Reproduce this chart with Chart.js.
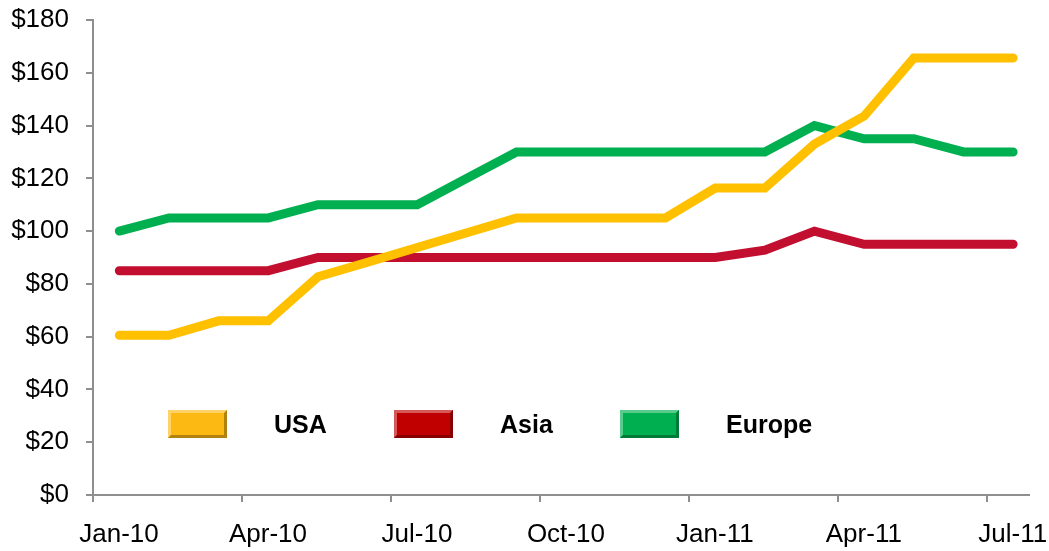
<!DOCTYPE html>
<html>
<head>
<meta charset="utf-8">
<script src="https://cdn.jsdelivr.net/npm/chart.js@4/dist/chart.umd.min.js"></script>
<style>
  html, body { margin: 0; padding: 0; background: #fff; }
  #wrap { width: 1049px; height: 551px; }
</style>
</head>
<body>
<div id="wrap"><canvas id="chart"></canvas></div>
<script>
// monthly points, Jan-10 .. Jul-11
const months = ['Jan-10','Feb-10','Mar-10','Apr-10','May-10','Jun-10','Jul-10','Aug-10','Sep-10','Oct-10',
                'Nov-10','Dec-10','Jan-11','Feb-11','Mar-11','Apr-11','May-11','Jun-11','Jul-11'];
const usa    = [60.5, 60.5, 66, 66, 82.7, 88.2, 93.8, 99.4, 105, 105, 105, 105, 116.3, 116.3, 133, 143.6, 165.6, 165.6, 165.6];
const asia   = [85, 85, 85, 85, 90, 90, 90, 90, 90, 90, 90, 90, 90, 92.8, 100, 95, 95, 95, 95];
const europe = [100, 105, 105, 105, 110, 110, 110, 120, 130, 130, 130, 130, 130, 130, 140, 135, 135, 130, 130];
const tickLabels = ['Jan-10','Apr-10','Jul-10','Oct-10','Jan-11','Apr-11','Jul-11'];
const yTicks = [0, 20, 40, 60, 80, 100, 120, 140, 160, 180];

const seriesNames = ['USA', 'Asia', 'Europe'];
const lineColors = ['#FFC000', '#C20E2F', '#00B050'];
const boxColors  = ['#FDB913', '#C00000', '#00B050'];

const dayOffset = 0.53; // points sit part way into the month

function toPoints(vals) {
    return vals.map((v, i) => ({ x: i + dayOffset, y: v }));
}

const axisGrey = '#8f8f8f';
const font = { family: '"Liberation Sans", Arial, sans-serif', size: 26 };

function shade(hex, amt) {
    let r = parseInt(hex.slice(1,3),16), g = parseInt(hex.slice(3,5),16), b = parseInt(hex.slice(5,7),16);
    if (amt > 0) {
        r += (255-r)*amt; g += (255-g)*amt; b += (255-b)*amt;
    } else {
        r *= 1+amt; g *= 1+amt; b *= 1+amt;
    }
    return `rgb(${Math.round(r)},${Math.round(g)},${Math.round(b)})`;
}

// bevelled legend inside the plot
const bevelLegend = {
    id: 'bevelLegend',
    afterDraw(chart) {
        const ctx = chart.ctx;
        const w = 59, h = 28, e = 3, y = 410;
        ctx.save();
        chart.data.datasets.forEach((ds, i) => {
            const x = 168 + i * 226;
            const c = boxColors[i];
            ctx.fillStyle = c;
            ctx.fillRect(x, y, w, h);
            // top + left light
            ctx.fillStyle = shade(c, 0.35);
            ctx.beginPath();
            ctx.moveTo(x, y); ctx.lineTo(x+w, y); ctx.lineTo(x+w-e, y+e); ctx.lineTo(x+e, y+e);
            ctx.lineTo(x+e, y+h-e); ctx.lineTo(x, y+h); ctx.closePath(); ctx.fill();
            // bottom + right dark
            ctx.fillStyle = shade(c, -0.3);
            ctx.beginPath();
            ctx.moveTo(x+w, y); ctx.lineTo(x+w, y+h); ctx.lineTo(x, y+h); ctx.lineTo(x+e, y+h-e);
            ctx.lineTo(x+w-e, y+h-e); ctx.lineTo(x+w-e, y+e); ctx.closePath(); ctx.fill();

            ctx.fillStyle = '#000';
            ctx.font = 'bold 25px "Liberation Sans", Arial, sans-serif';
            ctx.textBaseline = 'middle';
            ctx.textAlign = 'left';
            ctx.fillText(ds.label, x + 106, y + h/2 + 2);
        });
        ctx.restore();
    }
};

const datasets = [usa, asia, europe].map((vals, i) => ({
    label: seriesNames[i],
    data: toPoints(vals),
    borderColor: lineColors[i],
    backgroundColor: lineColors[i],
    borderWidth: 9,
    borderCapStyle: 'round',
    borderJoinStyle: 'miter',
    pointRadius: 0,
    tension: 0,
    fill: false
}));

const config = {
    type: 'line',
    data: { datasets: datasets },
    options: {
        responsive: false,
        animation: false,
        layout: { padding: { top: 20, right: 20, left: 0, bottom: 0 } },
        plugins: {
            legend: { display: false },
            tooltip: { enabled: false }
        },
        scales: {
            x: {
                type: 'linear',
                min: 0,
                max: 18.85,
                afterBuildTicks: s => { s.ticks = tickLabels.map((t, i) => ({ value: i * 3 })); },
                afterFit: s => { s.height = 56; s.paddingLeft = 0; s.paddingRight = 0; },
                ticks: {
                    color: '#000',
                    font: font,
                    padding: 17,
                    labelOffset: 26,
                    maxRotation: 0,
                    autoSkip: false,
                    callback: v => tickLabels[Math.round(v / 3)]
                },
                grid: {
                    drawOnChartArea: false,
                    drawTicks: true,
                    tickLength: 7,
                    color: axisGrey,
                    lineWidth: 2
                },
                border: { color: axisGrey, width: 2 }
            },
            y: {
                min: 0,
                max: 180,
                afterBuildTicks: s => { s.ticks = yTicks.map(v => ({ value: v })); },
                afterFit: s => { s.width = 93; s.paddingTop = 0; s.paddingBottom = 0; },
                ticks: {
                    color: '#000',
                    font: font,
                    padding: 17,
                    callback: v => '$' + v
                },
                grid: {
                    drawOnChartArea: false,
                    drawTicks: true,
                    tickLength: 7,
                    color: axisGrey,
                    lineWidth: 2
                },
                border: { color: axisGrey, width: 2 }
            }
        }
    },
    plugins: [bevelLegend]
};

const canvas = document.getElementById('chart');
canvas.width = 1049;
canvas.height = 551;
const myChart = new Chart(canvas, config);
</script>
</body>
</html>
